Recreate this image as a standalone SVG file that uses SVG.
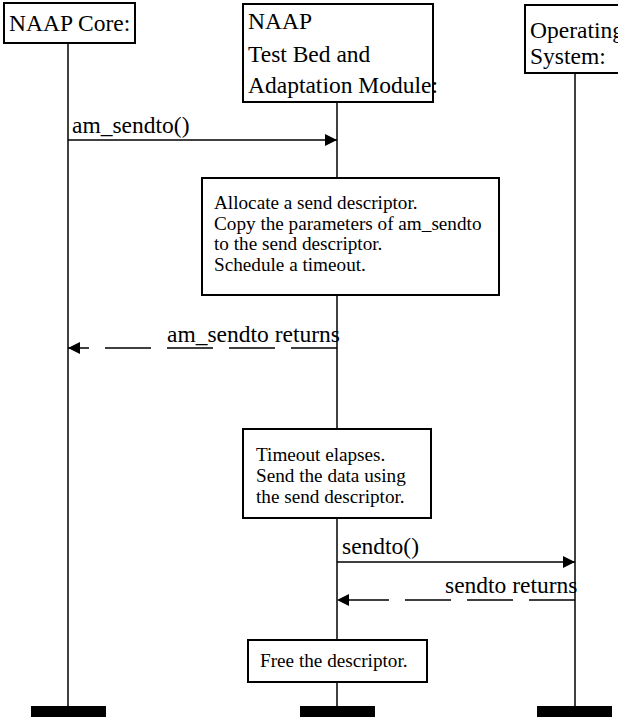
<svg xmlns="http://www.w3.org/2000/svg" width="618" height="719" viewBox="0 0 618 719">
<style>
.box{fill:#fff;stroke:#000;stroke-width:2}
.lbl{font-family:"Liberation Serif","Times New Roman",serif;font-size:23.5px;fill:#000}
.txt{font-family:"Liberation Serif","Times New Roman",serif;font-size:19.2px;fill:#000}
.life{stroke:#000;stroke-width:1.5;fill:none}
.msg{stroke:#000;stroke-width:1.3;fill:none}
.dash{stroke-dasharray:46 16}
.bar{fill:#000}
</style>
<defs>
<marker id="ah" markerUnits="userSpaceOnUse" markerWidth="13" markerHeight="13" refX="12" refY="6" orient="auto">
<path d="M0,0 L12,6 L0,12 Z" fill="#000"/>
</marker>
</defs>
<g id="lifelines">
<line class="life" x1="68" y1="43" x2="68" y2="707"/>
<line class="life" x1="337" y1="102" x2="337" y2="707"/>
<line class="life" x1="575" y1="73" x2="575" y2="707"/>
</g>
<g id="connectors">
<line class="msg" x1="68" y1="140" x2="337" y2="140" marker-end="url(#ah)"/>
<text class="lbl" x="72" y="133">am_sendto()</text>
<line class="msg dash" x1="337" y1="348" x2="68" y2="348" marker-end="url(#ah)"/>
<text class="lbl" x="167" y="342">am_sendto returns</text>
<line class="msg" x1="337" y1="562" x2="575" y2="562" marker-end="url(#ah)"/>
<text class="lbl" x="342" y="554">sendto()</text>
<line class="msg dash" x1="575" y1="600" x2="337" y2="600" marker-end="url(#ah)"/>
<text class="lbl" x="445" y="593">sendto returns</text>
</g>
<g id="naap-core">
<rect class="box" x="4" y="3" width="131" height="40"/>
<text class="lbl" x="9" y="31">NAAP Core:</text>
</g>
<g id="test-bed">
<rect class="box" x="243" y="4" width="190" height="98"/>
<text class="lbl" x="248" y="29">NAAP</text>
<text class="lbl" x="248" y="62">Test Bed and</text>
<text class="lbl" x="248" y="93">Adaptation Module:</text>
</g>
<g id="os">
<rect class="box" x="525" y="5" width="100" height="68"/>
<text class="lbl" x="530" y="38">Operating</text>
<text class="lbl" x="530" y="64">System:</text>
</g>
<g id="allocate">
<rect class="box" x="202" y="178" width="297" height="117"/>
<text class="txt" x="214" y="209">Allocate a send descriptor.</text>
<text class="txt" x="214" y="229.5">Copy the parameters of am_sendto</text>
<text class="txt" x="214" y="250">to the send descriptor.</text>
<text class="txt" x="214" y="270.5">Schedule a timeout.</text>
</g>
<g id="timeout">
<rect class="box" x="243" y="429" width="188" height="89"/>
<text class="txt" x="256" y="461">Timeout elapses.</text>
<text class="txt" x="256" y="482">Send the data using</text>
<text class="txt" x="256" y="503">the send descriptor.</text>
</g>
<g id="free">
<rect class="box" x="248" y="640" width="179" height="42"/>
<text class="txt" x="260" y="667">Free the descriptor.</text>
</g>
<g id="end-bars">
<rect class="bar" x="31" y="706" width="75" height="11"/>
<rect class="bar" x="300" y="706" width="75" height="11"/>
<rect class="bar" x="537" y="706" width="75" height="11"/>
</g>
</svg>
